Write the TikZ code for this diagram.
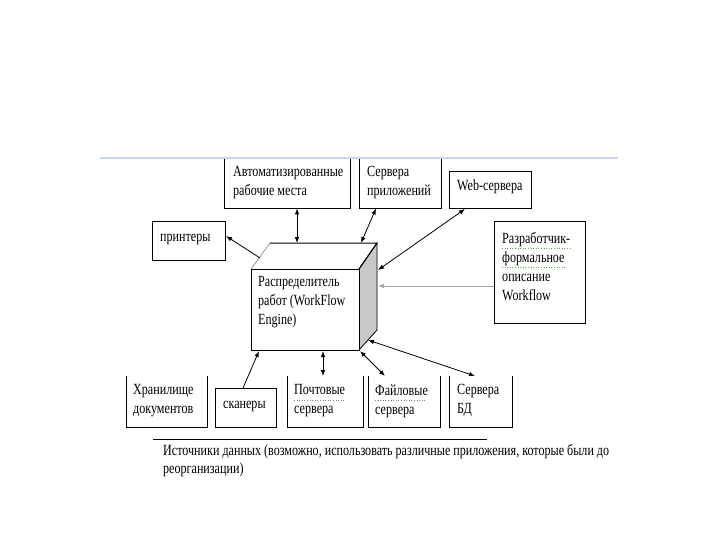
\documentclass[tikz,border=0pt]{standalone}
\usepackage{fontspec}
\setmainfont{Liberation Serif}[FakeStretch=0.78]
\usetikzlibrary{arrows.meta}
\definecolor{rulerblue}{RGB}{198,214,240}
\definecolor{cubegray}{RGB}{200,200,200}
\definecolor{spellgreen}{RGB}{90,170,90}
\begin{document}
\begin{tikzpicture}[x=1pt,y=-1pt,
  font=\fontsize{15.5}{19}\selectfont,
  frame/.style={draw, line width=1pt, inner sep=0pt, anchor=north west},
  area/.style={inner sep=0pt, anchor=north west},
  txt/.style={anchor=west, align=left, inner sep=0pt},
  arr/.style={-{Latex[length=6pt,width=4.5pt]}, line width=0.8pt},
  darr/.style={{Latex[length=6pt,width=4.5pt]}-{Latex[length=6pt,width=4.5pt]}, line width=0.8pt},
  spell/.style={dotted, line width=0.6pt}]
\useasboundingbox (0,0) rectangle (720,540);
\fill[white] (0,0) rectangle (720,540);
% ruler line
\draw[rulerblue, line width=2.5pt] (100,158) -- (618,158);

% top boxes (open at the top)
\node[area, minimum width=126pt, minimum height=49pt] (arm) at (224,159) {};
\draw[line width=1pt] (arm.north west) -- (arm.south west) -- (arm.south east) -- (arm.north east);
\node[txt] (armt) at (233,183) {Автоматизированные\\рабочие места};

\node[area, minimum width=82pt, minimum height=49pt] (apps) at (359,159) {};
\draw[line width=1pt] (apps.north west) -- (apps.south west) -- (apps.south east) -- (apps.north east);
\node[txt] (appst) at (367,183) {Сервера\\приложений};

\node[frame, minimum width=82pt, minimum height=37pt] (web) at (449,171) {};
\node[txt] (webt) at (457,187) {Web-сервера};

\node[frame, minimum width=73pt, minimum height=39pt] (prn) at (152,221) {};
\node[txt] (prnt) at (160,239) {принтеры};

\node[frame, minimum width=91pt, minimum height=102pt] (dev) at (494,221) {};
\node[txt] (devt) at (502,267) {Разработчик-\\формальное\\описание\\Workflow};
\draw[spellgreen, spell] (502,248) -- (572,248);
\draw[spellgreen, spell] (502,267) -- (566,267);

% cube
\filldraw[fill=cubegray, line width=0.8pt] (359,269) -- (377,243) -- (377,330) -- (359,350) -- cycle;
\draw[line width=1pt] (270,243) -- (377,243) -- (359,269);
\draw[gray, line width=0.6pt] (251,269) -- (270,243);
\node[frame, fill=white, minimum width=108pt, minimum height=81pt] (eng) at (251,269) {};
\node[txt] (engt) at (258,302) {Распределитель\\работ (WorkFlow\\Engine)};

% connection points on the cube
\coordinate (ct1) at (297,243);
\coordinate (ct2) at (361,243);
\coordinate (cr1) at (378,270);
\coordinate (cr2) at (378,286);
\coordinate (cp) at (260,258);
\coordinate (cb1) at (259,351);
\coordinate (cb2) at (323,351);
\coordinate (cb3) at (368,340);

% bottom boxes
\node[area, minimum width=81pt, minimum height=51pt] (store) at (126,376) {};
\draw[line width=1pt] (store.north west) -- (store.south west) -- (store.south east) -- (store.north east);
\node[txt] (storet) at (133,401) {Хранилище\\документов};

\node[frame, minimum width=61pt, minimum height=39pt] (scn) at (215,388) {};
\node[txt] (scnt) at (223,406) {сканеры};

\node[area, minimum width=76pt, minimum height=51pt] (post) at (287,376) {};
\draw[line width=1pt] (post.north west) -- (post.south west) -- (post.south east) -- (post.north east);
\node[txt] (postt) at (294,401) {Почтовые\\сервера};
\draw[gray, spell] (294,400) -- (346,400);

\node[area, minimum width=72pt, minimum height=51pt] (file) at (368,376) {};
\draw[line width=1pt] (file.north west) -- (file.south west) -- (file.south east) -- (file.north east);
\node[txt] (filet) at (375,401) {Файловые\\сервера};
\draw[gray, spell] (375,400) -- (426,400);

\node[area, minimum width=63pt, minimum height=51pt] (db) at (449,376) {};
\draw[line width=1pt] (db.north west) -- (db.south west) -- (db.south east) -- (db.north east);
\node[txt] (dbt) at (457,401) {Сервера\\БД};

% connectors
\draw[darr] (arm.south -| ct1) -- (ct1);
\draw[darr] ([xshift=17pt]apps.south west) -- (ct2);
\draw[darr] ([xshift=16pt]web.south west) -- (cr1);
\draw[arr, gray!70] (dev.west |- cr2) -- (cr2);
\draw[arr] (cp) -- ([yshift=5pt]prn.east);
\draw[arr] ([xshift=28pt]scn.north west) -- (cb1);
\draw[darr] (cb2) -- (cb2 |- post.north);
\draw[darr] (eng.south east) -- ([xshift=17pt]file.north west);
\draw[darr] (cb3) -- ([xshift=26pt]db.north west);

% separator and caption
\draw[line width=1pt] (153,439) -- (487,439);
\node[area, align=left, font=\fontsize{15.5}{18}\selectfont] (src) at (163,444) {Источники данных (возможно, использовать различные приложения, которые были до\\реорганизации)};
\end{tikzpicture}
\end{document}
